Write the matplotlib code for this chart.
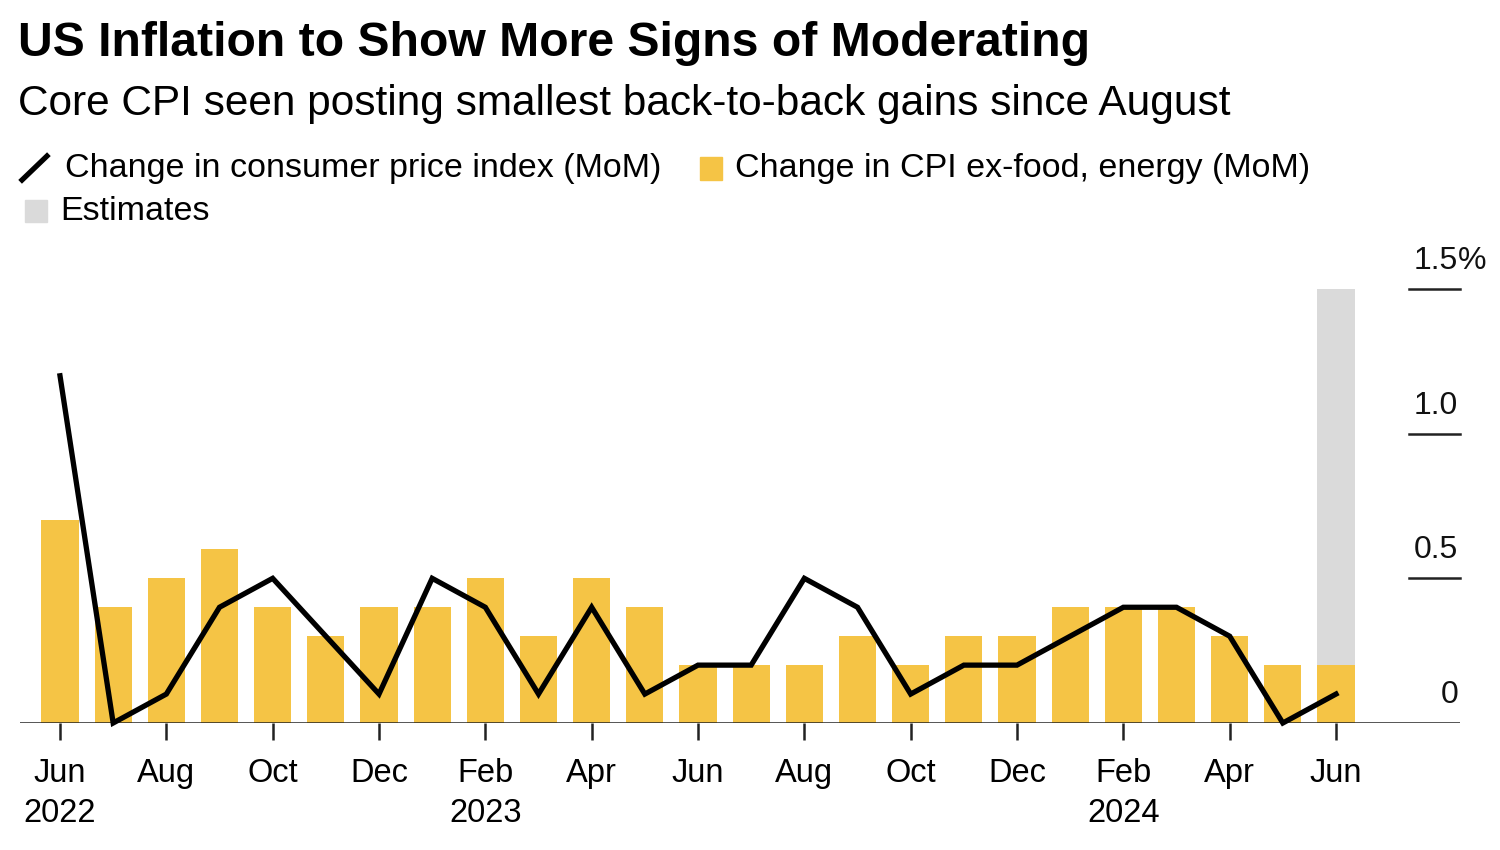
import matplotlib
matplotlib.use("Agg")
import matplotlib.pyplot as plt
import matplotlib.transforms as mtransforms
from matplotlib.patches import Rectangle
from matplotlib.lines import Line2D

months = ["Jun 2022", "Jul 2022", "Aug 2022", "Sep 2022", "Oct 2022", "Nov 2022",
          "Dec 2022", "Jan 2023", "Feb 2023", "Mar 2023", "Apr 2023", "May 2023",
          "Jun 2023", "Jul 2023", "Aug 2023", "Sep 2023", "Oct 2023", "Nov 2023",
          "Dec 2023", "Jan 2024", "Feb 2024", "Mar 2024", "Apr 2024", "May 2024",
          "Jun 2024"]
core_cpi = [0.7, 0.4, 0.5, 0.6, 0.4, 0.3, 0.4, 0.4, 0.5, 0.3, 0.5, 0.4,
            0.2, 0.2, 0.2, 0.3, 0.2, 0.3, 0.3, 0.4, 0.4, 0.4, 0.3, 0.2, 0.2]
headline_cpi = [1.2, 0.0, 0.1, 0.4, 0.5, 0.3, 0.1, 0.5, 0.4, 0.1, 0.4, 0.1,
                0.2, 0.2, 0.5, 0.4, 0.1, 0.2, 0.2, 0.3, 0.4, 0.4, 0.3, 0.0, 0.1]
estimate_months = ["Jun 2024"]
estimate_height = [1.5]
tick_labels = ["Jun\n2022", "Aug", "Oct", "Dec", "Feb\n2023", "Apr", "Jun", "Aug",
               "Oct", "Dec", "Feb\n2024", "Apr", "Jun"]
y_ticks = [0, 0.5, 1.0, 1.5]
y_tick_labels = ["0", "0.5", "1.0", "1.5"]

YELLOW = "#F5C445"
GRAY = "#DADADA"
FONT = "Liberation Sans"

W, H = 1500, 850
fig = plt.figure(figsize=(15, 8.5), dpi=100)
fig.patch.set_facecolor("white")

def fx(px):
    return px / W

def fy(py):
    return 1 - py / H

# axes: left 20px, right 1460px, baseline y=723, top (1.5) y=289
ax = fig.add_axes([fx(20), fy(723), fx(1460) - fx(20), (723 - 289) / H])
x = list(range(len(months)))
step = (1336 - 60) / 24
ax.set_xlim((20 - 60) / step, (1460 - 60) / step)
ax.set_ylim(0, 1.5)

bw = 0.7
est_x = [months.index(m) for m in estimate_months]
ax.bar(est_x, estimate_height, width=bw, color=GRAY, zorder=1)
ax.bar(x, core_cpi, width=bw, color=YELLOW, zorder=2)
ax.plot(x, headline_cpi, color="black", lw=3.8, zorder=4,
        solid_joinstyle="miter", clip_on=False)

# baseline
ax.axhline(0, color="#222222", lw=1.8, zorder=3)

for s in ax.spines.values():
    s.set_visible(False)

ax.set_xticks(x[::2])
ax.set_xticklabels(tick_labels, fontsize=23.5, family=FONT, linespacing=1.4)
ax.tick_params(axis="x", length=12, width=1.8, color="#222222", pad=13)
ax.set_yticks([])

trans = mtransforms.blended_transform_factory(ax.transAxes, ax.transData)
seg_start = (1409 - 20) / 1440
lab_off = mtransforms.ScaledTranslation(-2 / 100, 20 / 100, fig.dpi_scale_trans)
for v, lab in zip(y_ticks, y_tick_labels):
    if v != 0:
        ax.plot([seg_start, 1.0], [v, v], transform=trans, color="#222222",
                lw=1.8, clip_on=False, zorder=3)
    ax.text(1.0, v, lab, transform=trans + lab_off, ha="right", va="baseline",
            fontsize=23, family=FONT, color="#111111")
    if v == max(y_ticks):
        ax.text(1.0, v, "%", transform=trans + lab_off, ha="left", va="baseline",
                fontsize=23, family=FONT, color="#111111")

# Title / subtitle
fig.text(fx(18), fy(43), "US Inflation to Show More Signs of Moderating",
         fontsize=34.7, fontweight="bold", family=FONT, va="center", ha="left")
fig.text(fx(18), fy(104), "Core CPI seen posting smallest back-to-back gains since August",
         fontsize=30.5, family=FONT, va="center", ha="left")

# Legend
fig.add_artist(Line2D([fx(22), fx(47)], [fy(180), fy(156)], color="black", lw=3.8,
                      transform=fig.transFigure))
fig.text(fx(65), fy(168), "Change in consumer price index (MoM)", fontsize=24.5,
         family=FONT, va="center", ha="left")
fig.add_artist(Rectangle((fx(700), fy(180)), fx(722) - fx(700), (180 - 157) / H,
                         transform=fig.transFigure, color=YELLOW))
fig.text(fx(735), fy(168), "Change in CPI ex-food, energy (MoM)", fontsize=24.5,
         family=FONT, va="center", ha="left")
fig.add_artist(Rectangle((fx(25), fy(222)), fx(47) - fx(25), (222 - 200) / H,
                         transform=fig.transFigure, color=GRAY))
fig.text(fx(60), fy(211), "Estimates", fontsize=24.5, family=FONT, va="center", ha="left")

fig.savefig("out.png", dpi=100, facecolor="white")
